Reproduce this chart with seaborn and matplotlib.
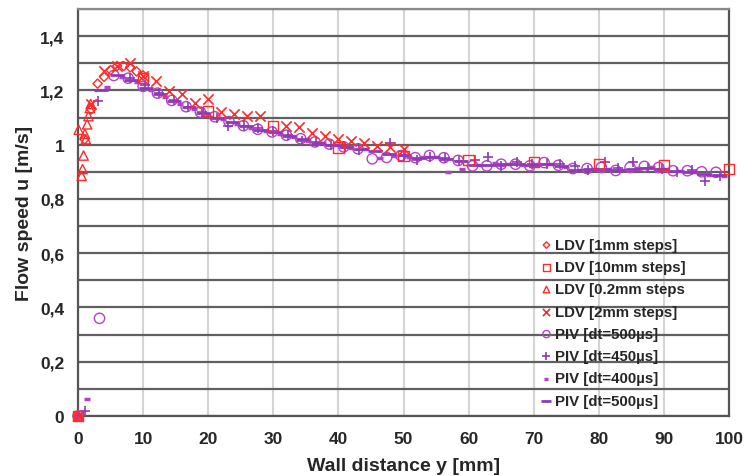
import numpy as np
import pandas as pd
import matplotlib
matplotlib.use("Agg")
import matplotlib.pyplot as plt
from matplotlib.ticker import MultipleLocator, FuncFormatter
import seaborn as sns

# LDV Messreihen
ldv1_x = [0, 1, 2, 3, 4, 5, 6, 7, 8, 9, 10]
ldv1_y = [0, 1.02, 1.13, 1.225, 1.25, 1.275, 1.29, 1.29, 1.285, 1.27, 1.255]

ldv10_x = [0, 10, 20, 30, 40, 50, 60, 70, 80, 90, 100]
ldv10_y = [0, 1.247, 1.123, 1.07, 0.99, 0.958, 0.943, 0.935, 0.93, 0.925, 0.91]

ldv02_x = [0, 0.1, 0.55, 0.7, 0.85, 1.05, 1.2, 1.4, 1.6, 1.8, 1.95]
ldv02_y = [0, 1.055, 0.885, 0.91, 0.96, 1.04, 1.02, 1.075, 1.105, 1.135, 1.15]

ldv2_x = [0, 2, 4, 6, 8, 10, 12, 14, 16, 18, 20, 22, 24, 26, 28,
          32, 34, 36, 38, 40, 42, 44, 46, 48, 50]
ldv2_y = [0, 1.15, 1.27, 1.29, 1.30, 1.253, 1.235, 1.198, 1.186, 1.155, 1.167,
          1.12, 1.112, 1.106, 1.105, 1.069, 1.064, 1.044, 1.032, 1.022, 1.014,
          1.005, 0.995, 0.99, 0.983]

# PIV Messreihen
piv500_x = [0, 3.3, 5.5, 7.7, 10, 12.2, 14.4, 16.6, 18.8, 21, 23.2, 25.4, 27.6,
            29.8, 32, 34.2, 36.4, 38.6, 40.8, 43, 45.2, 47.4, 49.6, 51.8, 54,
            56.2, 58.4, 60.6, 62.8, 65, 67.2, 69.4, 71.6, 73.8, 76, 78.2, 80.4,
            82.6, 84.8, 87, 89.2, 91.4, 93.6, 95.8, 98]
piv500_y = [0, 0.36, 1.255, 1.245, 1.215, 1.19, 1.163, 1.14, 1.12, 1.103, 1.085,
            1.07, 1.057, 1.047, 1.035, 1.022, 1.01, 1.002, 0.992, 0.985, 0.948,
            0.953, 0.96, 0.952, 0.96, 0.952, 0.942, 0.922, 0.922, 0.928, 0.928,
            0.922, 0.934, 0.924, 0.912, 0.912, 0.916, 0.905, 0.916, 0.92, 0.916,
            0.904, 0.904, 0.9, 0.898]

piv450_x = [0, 1.1, 3.1, 8, 10.3, 12.5, 14.7, 16.9, 19.1, 21.3, 23, 25.5, 27.7,
            30, 32.2, 34.4, 36.6, 38.8, 41, 43.2, 48, 50, 52, 54, 56.3, 58.5,
            61, 63, 65, 67.5, 69.8, 72, 74, 76.3, 78.4, 81, 83, 85.3, 87.6,
            89.7, 92, 94.3, 96.3, 98.6]
piv450_y = [0, 0.02, 1.16, 1.245, 1.22, 1.19, 1.165, 1.14, 1.12, 1.10, 1.07,
            1.07, 1.06, 1.05, 1.035, 1.015, 1.01, 1.0, 0.99, 0.98, 1.008, 0.96,
            0.945, 0.955, 0.95, 0.94, 0.945, 0.953, 0.92, 0.935, 0.93, 0.93,
            0.93, 0.92, 0.905, 0.935, 0.915, 0.935, 0.915, 0.91, 0.9, 0.905,
            0.866, 0.885]

piv400_x = [0, 1.4, 4.4, 6.8, 9, 11.2, 13.4, 15.6, 17.8, 20, 22.2, 24.4, 26.6,
            28.8, 31, 33.2, 35.4, 37.6, 39.8, 42, 44.2, 46.4, 48.6, 50.8, 53,
            55.2, 56.9, 59, 61.8, 64, 66.2, 68.4, 70.6, 72.8, 75, 77.2, 79.4,
            81.6, 83.8, 86, 88.2, 90.4, 92.6, 94.8, 97, 99.2]
piv400_y = [0, 0.062, 1.213, 1.25, 1.23, 1.20, 1.175, 1.15, 1.13, 1.11, 1.095,
            1.078, 1.063, 1.05, 1.04, 1.028, 1.015, 1.005, 0.997, 0.988, 0.985,
            0.95, 0.958, 0.955, 0.955, 0.955, 0.90, 0.91, 0.925, 0.932, 0.93,
            0.925, 0.93, 0.928, 0.918, 0.905, 0.912, 0.91, 0.905, 0.915, 0.918,
            0.908, 0.902, 0.898, 0.89, 0.885]

piv500b_x = [3.6, 6.0, 8.2, 10.4, 12.6, 14.8, 17, 19.2, 21.4, 23.6, 25.8, 28,
             30.2, 32.4, 34.6, 36.8, 39, 41.2, 43.4, 45.6, 47.8, 50, 52.2, 54.4,
             56.6, 58.8, 61, 63.2, 65.4, 67.6, 69.8, 72, 74.2, 76.4, 78.6, 80.8,
             83, 85.2, 87.4, 89.6, 91.8, 94, 96.2, 98.4]
piv500b_y = [1.20, 1.255, 1.24, 1.21, 1.185, 1.16, 1.138, 1.118, 1.10, 1.082,
             1.068, 1.055, 1.045, 1.032, 1.02, 1.008, 1.0, 0.99, 0.983, 0.975,
             0.965, 0.962, 0.952, 0.955, 0.948, 0.94, 0.925, 0.925, 0.93, 0.928,
             0.925, 0.93, 0.922, 0.905, 0.91, 0.912, 0.905, 0.91, 0.915, 0.91,
             0.902, 0.9, 0.893, 0.89]

red = "#ff2a2a"
purple = "#8e3ab8"
magenta = "#b542c4"

sns.set_style("white")
plt.rcParams["font.family"] = ["Liberation Sans", "DejaVu Sans"]
plt.rcParams["font.weight"] = "bold"

fig, ax = plt.subplots(figsize=(7.46, 4.77), dpi=100)
fig.subplots_adjust(left=0.1046, right=0.9772, top=0.979, bottom=0.1258)

# Reihenfolge wie in der Legende (LDV oben drüber gezeichnet)
series = [
    (ldv1_x, ldv1_y, "LDV [1mm steps]", "D", red, 22, 1.0, True, 5),
    (ldv10_x, ldv10_y, "LDV [10mm steps]", "s", red, 55, 1.0, True, 5),
    (ldv02_x, ldv02_y, "LDV [0.2mm steps", "^", red, 45, 1.0, True, 5),
    (ldv2_x, ldv2_y, "LDV [2mm steps]", "x", red, 55, 1.2, False, 5),
    (piv500_x, piv500_y, "PIV [dt=500µs]", "o", magenta, 55, 1.0, True, 3),
    (piv450_x, piv450_y, "PIV [dt=450µs]", "+", purple, 55, 1.2, False, 3),
    (piv400_x, piv400_y, "PIV [dt=400µs]", "_", magenta, 18, 2.5, False, 3),
    (piv500b_x, piv500b_y, "PIV [dt=500µs]", "_", purple, 110, 2.0, False, 3),
]

for xs, ys, lab, mk, col, size, lw, hollow, zo in series:
    df = pd.DataFrame({"x": xs, "y": ys})
    if hollow:
        sns.scatterplot(data=df, x="x", y="y", ax=ax, marker=mk, s=size,
                        facecolor="none", edgecolor=col, linewidth=lw,
                        label=lab, clip_on=False, zorder=zo)
    else:
        sns.scatterplot(data=df, x="x", y="y", ax=ax, marker=mk, s=size,
                        color=col, linewidth=lw, label=lab,
                        clip_on=False, zorder=zo)

ax.set_xlim(0, 100)
ax.set_ylim(0, 1.5)
ax.xaxis.set_major_locator(MultipleLocator(10))
ax.yaxis.set_major_locator(MultipleLocator(0.2))
ax.yaxis.set_minor_locator(MultipleLocator(0.1))


def komma(v, pos):
    if abs(v - round(v)) < 1e-9:
        return str(int(round(v)))
    return f"{v:.1f}".replace(".", ",")


ax.yaxis.set_major_formatter(FuncFormatter(komma))
ax.set_yticks([0, 0.2, 0.4, 0.6, 0.8, 1.0, 1.2, 1.4])

ax.grid(True, axis="x", which="major", color="#d4d4d4", linewidth=1.5, zorder=0)
ax.grid(True, axis="y", which="both", color="#606060", linewidth=1.6, zorder=0)
ax.set_axisbelow(True)

for s in ["left", "bottom", "right", "top"]:
    ax.spines[s].set_color("#555555")
    ax.spines[s].set_linewidth(1.6)
ax.spines["top"].set_color("#8a8a8a")

ax.tick_params(axis="both", which="major", labelsize=12.5, length=4,
               width=1.2, color="#555555", direction="out")
ax.tick_params(axis="y", which="minor", length=4, width=1.2, color="#555555")
ax.tick_params(axis="x", pad=7)
ax.tick_params(axis="y", pad=6)
for t in ax.get_xticklabels() + ax.get_yticklabels():
    t.set_fontweight("bold")

ax.set_xlabel("Wall distance y [mm]", fontsize=14, fontweight="bold", labelpad=8)
ax.set_ylabel("Flow speed u [m/s]", fontsize=14, fontweight="bold", labelpad=5)

leg = ax.legend(loc="lower left", bbox_to_anchor=(0.7, 0.0), frameon=False,
                fontsize=10.8, handlelength=0.6, handletextpad=0.3,
                labelspacing=0.55, borderaxespad=0.15, markerscale=0.7)
for t in leg.get_texts():
    t.set_fontweight("bold")

fig.savefig("out.png", dpi=100)
